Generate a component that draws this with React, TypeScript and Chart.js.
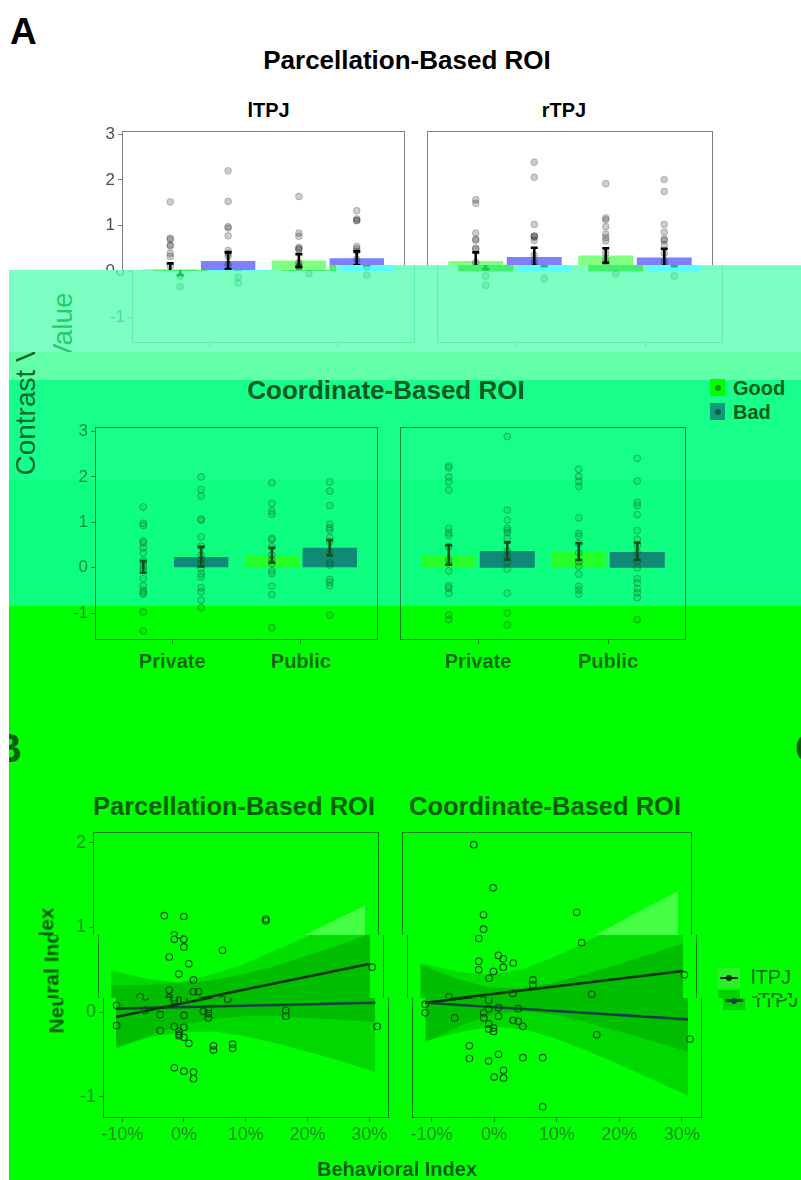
import React, { useEffect, useRef } from 'react';
import { Chart, registerables } from 'chart.js';

Chart.register(...registerables);

const FONT = '"Liberation Sans", Arial, Helvetica, sans-serif';

// ================= DATA =================
const CATEGORIES = ['Private', 'Public'];
const CONDITIONS = ['Good', 'Bad'];
const HEMISPHERES = ['lTPJ', 'rTPJ'];
const ROI_TYPES = ['Parcellation-Based ROI', 'Coordinate-Based ROI'];
const PANEL_LABELS = ['A', 'B', 'C'];
const Y_TITLE_A = 'Contrast Value';
const Y_TITLE_B = 'Neural Index';
const X_TITLE_B = 'Behavioral Index';
const Y_TICKS_A = [-1, 0, 1, 2, 3];
const Y_TICKS_B = [-1, 0, 1, 2];
const X_TICKS_B = [-10, 0, 10, 20, 30];

// Panel A: mean contrast value [Private, Public] and error-bar limits
const PARC_L_GOOD_MEAN = [0.05, 0.24];
const PARC_L_GOOD_LO = [-0.08, 0.1];
const PARC_L_GOOD_HI = [0.18, 0.38];
const PARC_L_BAD_MEAN = [0.23, 0.29];
const PARC_L_BAD_LO = [0.05, 0.14];
const PARC_L_BAD_HI = [0.42, 0.44];

const PARC_R_GOOD_MEAN = [0.23, 0.35];
const PARC_R_GOOD_LO = [0.05, 0.19];
const PARC_R_GOOD_HI = [0.42, 0.51];
const PARC_R_BAD_MEAN = [0.32, 0.31];
const PARC_R_BAD_LO = [0.12, 0.12];
const PARC_R_BAD_HI = [0.52, 0.5];

const COORD_L_GOOD_MEAN = [0.02, 0.27];
const COORD_L_GOOD_LO = [-0.11, 0.11];
const COORD_L_GOOD_HI = [0.15, 0.44];
const COORD_L_BAD_MEAN = [0.24, 0.44];
const COORD_L_BAD_LO = [0.03, 0.27];
const COORD_L_BAD_HI = [0.46, 0.61];

const COORD_R_GOOD_MEAN = [0.28, 0.35];
const COORD_R_GOOD_LO = [0.07, 0.17];
const COORD_R_GOOD_HI = [0.5, 0.54];
const COORD_R_BAD_MEAN = [0.37, 0.35];
const COORD_R_BAD_LO = [0.18, 0.17];
const COORD_R_BAD_HI = [0.56, 0.55];

// Panel A: individual subject values
const PARC_L_GOOD_PRIVATE = [1.52, 0.73, 0.7, 0.58, 0.56, 0.4, 0.33, 0.12, -0.1, -0.33];
const PARC_L_GOOD_PUBLIC = [1.64, 0.84, 0.77, 0.53, 0.5, 0.48, 0.19, 0.12, 0.1, -0.05];
const PARC_L_BAD_PRIVATE = [2.2, 1.53, 0.98, 0.95, 0.78, 0.46, 0.4, 0.33, 0.15, -0.12, -0.25];
const PARC_L_BAD_PUBLIC = [1.33, 1.15, 1.12, 1.11, 0.55, 0.5, 0.44, 0.27, 0.1, -0.08];
const PARC_R_GOOD_PRIVATE = [1.57, 1.49, 0.84, 0.71, 0.68, 0.51, 0.49, 0.2, -0.1, -0.3];
const PARC_R_GOOD_PUBLIC = [1.92, 1.17, 1.13, 0.98, 0.82, 0.74, 0.67, 0.4, 0.25, -0.05];
const PARC_R_BAD_PRIVATE = [2.39, 2.06, 1.03, 0.78, 0.77, 0.75, 0.68, 0.36, 0.2, -0.15];
const PARC_R_BAD_PUBLIC = [2.01, 1.75, 1.03, 0.86, 0.71, 0.68, 0.58, 0.4, 0.22, -0.1];

const COORD_L_GOOD_PRIVATE = [1.34, 0.98, 0.93, 0.59, 0.55, 0.44, 0.33, 0.16, 0.1, 0.02, -0.05, -0.24, -0.4, -0.5, -0.55, -0.58, -0.97, -1.39];
const COORD_L_GOOD_PUBLIC = [1.87, 1.42, 1.25, 1.18, 0.65, 0.62, 0.46, 0.28, 0.18, 0.09, -0.07, -0.13, -0.4, -0.59, -1.32];
const COORD_L_BAD_PRIVATE = [2.0, 1.72, 1.58, 1.07, 1.05, 0.68, 0.48, 0.28, 0.18, 0.1, -0.02, -0.13, -0.2, -0.44, -0.53, -0.71, -0.88];
const COORD_L_BAD_PUBLIC = [1.89, 1.69, 1.37, 0.96, 0.88, 0.83, 0.66, 0.57, 0.33, 0.11, 0.06, -0.26, -0.32, -0.4, -1.04];
const COORD_R_GOOD_PRIVATE = [2.24, 2.2, 2.0, 1.89, 1.71, 0.87, 0.77, 0.71, 0.46, 0.17, -0.07, -0.4, -0.45, -0.56, -1.04, -1.14];
const COORD_R_GOOD_PUBLIC = [2.17, 2.01, 1.9, 1.79, 1.1, 0.76, 0.7, 0.53, 0.33, 0.13, 0.03, -0.14, -0.41, -0.49, -0.58];
const COORD_R_BAD_PRIVATE = [2.89, 1.27, 1.05, 0.87, 0.82, 0.77, 0.65, 0.37, 0.26, 0.13, -0.03, -0.56, -1.0, -1.26];
const COORD_R_BAD_PUBLIC = [2.41, 1.91, 1.44, 1.37, 1.17, 0.82, 0.63, 0.49, 0.33, 0.15, 0.0, -0.24, -0.33, -0.46, -0.55, -0.66, -1.14];

// Panel B: behavioral index (%) vs neural index
const PARC_B_X = [-1.55, 1.6, 14.9, 14.9, 0.05, -0.75, 0.8, 0.8, -1.56, 7.06, 1.6, 0, 2.36, -1.56, 2.36, 3.16, -6.26, -1.56, -1.56, 0, 7.1, -10.9, -10.9, -6.3, -3.85, -3.85, -1.56, -0.8, -0.8, -0.8, 0, 0, 0, 0.8, 3.16, 3.96, 3.96, 3.96, 4.77, 4.77, 7.9, 7.9, 16.5, 16.5, -1.55, 0, 1.56, 1.56, 31.3, 31.3];
const PARC_B_Y = [1.14, 1.13, 1.1, 1.08, 0.91, 0.86, 0.86, 0.77, 0.65, 0.73, 0.57, 0.45, 0.38, 0.26, 0.24, 0.24, 0.18, 0.17, 0.14, 0.14, 0.15, 0.08, -0.16, 0.02, -0.03, -0.22, -0.17, -0.23, -0.26, -0.28, -0.04, -0.18, -0.3, -0.37, 0.01, 0.03, -0.02, -0.07, -0.4, -0.45, -0.38, -0.43, 0.02, -0.05, -0.66, -0.7, -0.71, -0.79, 0.53, -0.17];
const COORD_B_X = [-1.65, 1.44, -0.1, -0.1, 14.8, -1.65, 14.8, 1.5, 2.25, -1.65, 3.85, -1.65, 2.25, 0.7, 0, 7.0, 7.0, 16.4, 3.8, -6.4, -11.0, -11.0, -0.87, -0.87, 0.7, 0.7, 3.85, -6.3, -1.65, -1.65, -0.85, -0.85, -0.1, -0.1, 3.05, 3.85, 4.6, 16.4, 31.3, 31.2, -3.96, -3.96, -0.87, 0.7, 4.6, 7.76, 1.5, 1.5, 0, 7.76];
const COORD_B_Y = [1.98, 1.47, 1.15, 0.98, 1.18, 0.87, 0.82, 0.67, 0.63, 0.6, 0.58, 0.5, 0.53, 0.48, 0.4, 0.38, 0.32, 0.21, 0.22, 0.18, 0.09, -0.01, 0.14, 0.04, 0.05, -0.05, 0.04, -0.07, -0.01, -0.07, -0.14, -0.2, -0.19, -0.23, -0.1, -0.11, -0.17, -0.27, -0.32, 0.44, -0.4, -0.55, -0.58, -0.5, -0.54, -0.54, -0.69, -0.78, -0.77, -1.12];

// Panel B: fitted lines and 95% confidence bands
const FIT_X = [-11, 31];
const PARC_L_FIT = [-0.06, 0.57];
const PARC_R_FIT = [0.04, 0.11];
const COORD_L_FIT = [0.11, 0.485];
const COORD_R_FIT = [0.11, -0.087];
const BAND_X = [-11, -5, 0, 5, 10, 15, 20, 25, 31];
const PARC_L_BAND_HI = [0.32, 0.32, 0.35, 0.44, 0.55, 0.71, 0.87, 1.05, 1.26];
const PARC_L_BAND_LO = [-0.44, -0.26, -0.15, -0.08, -0.05, -0.05, -0.07, -0.09, -0.12];
const PARC_R_BAND_HI = [0.49, 0.39, 0.35, 0.37, 0.44, 0.53, 0.65, 0.77, 0.93];
const PARC_R_BAND_LO = [-0.41, -0.29, -0.24, -0.23, -0.29, -0.37, -0.47, -0.57, -0.71];
const COORD_L_BAND_HI = [0.58, 0.48, 0.44, 0.5, 0.64, 0.81, 1.0, 1.2, 1.43];
const COORD_L_BAND_LO = [-0.36, -0.15, -0.02, 0.01, -0.04, -0.13, -0.23, -0.34, -0.47];
const COORD_R_BAND_HI = [0.56, 0.39, 0.29, 0.28, 0.34, 0.44, 0.55, 0.67, 0.81];
const COORD_R_BAND_LO = [-0.34, -0.23, -0.17, -0.21, -0.32, -0.46, -0.62, -0.79, -0.99];

// ================= PANEL BUNDLES =================
const BAR_PARC_L = { goodMean: PARC_L_GOOD_MEAN, goodLo: PARC_L_GOOD_LO, goodHi: PARC_L_GOOD_HI, badMean: PARC_L_BAD_MEAN, badLo: PARC_L_BAD_LO, badHi: PARC_L_BAD_HI, goodPts: [PARC_L_GOOD_PRIVATE, PARC_L_GOOD_PUBLIC], badPts: [PARC_L_BAD_PRIVATE, PARC_L_BAD_PUBLIC] };
const BAR_PARC_R = { goodMean: PARC_R_GOOD_MEAN, goodLo: PARC_R_GOOD_LO, goodHi: PARC_R_GOOD_HI, badMean: PARC_R_BAD_MEAN, badLo: PARC_R_BAD_LO, badHi: PARC_R_BAD_HI, goodPts: [PARC_R_GOOD_PRIVATE, PARC_R_GOOD_PUBLIC], badPts: [PARC_R_BAD_PRIVATE, PARC_R_BAD_PUBLIC] };
const BAR_COORD_L = { goodMean: COORD_L_GOOD_MEAN, goodLo: COORD_L_GOOD_LO, goodHi: COORD_L_GOOD_HI, badMean: COORD_L_BAD_MEAN, badLo: COORD_L_BAD_LO, badHi: COORD_L_BAD_HI, goodPts: [COORD_L_GOOD_PRIVATE, COORD_L_GOOD_PUBLIC], badPts: [COORD_L_BAD_PRIVATE, COORD_L_BAD_PUBLIC] };
const BAR_COORD_R = { goodMean: COORD_R_GOOD_MEAN, goodLo: COORD_R_GOOD_LO, goodHi: COORD_R_GOOD_HI, badMean: COORD_R_BAD_MEAN, badLo: COORD_R_BAD_LO, badHi: COORD_R_BAD_HI, goodPts: [COORD_R_GOOD_PRIVATE, COORD_R_GOOD_PUBLIC], badPts: [COORD_R_BAD_PRIVATE, COORD_R_BAD_PUBLIC] };

const FIT_PARC = { px: PARC_B_X, py: PARC_B_Y, lFit: PARC_L_FIT, rFit: PARC_R_FIT, lHi: PARC_L_BAND_HI, lLo: PARC_L_BAND_LO, rHi: PARC_R_BAND_HI, rLo: PARC_R_BAND_LO };
const FIT_COORD = { px: COORD_B_X, py: COORD_B_Y, lFit: COORD_L_FIT, rFit: COORD_R_FIT, lHi: COORD_L_BAND_HI, lLo: COORD_L_BAND_LO, rHi: COORD_R_BAND_HI, rLo: COORD_R_BAND_LO };

// ================= STYLES =================
const PAL_WHITE: any = {
  bg: '#ffffff', title: '#000000', axisTitle: '#000000', tick: '#4d4d4d', frame: '#7f7f7f', xLabel: '#000000',
  good: '#80ff80', bad: '#8080ff', ptFill: 'rgba(0,0,0,0.2)', ptBorder: 'rgba(0,0,0,0.2)', err: '#000000',
  circle: '#000000', lineL: '#000000', lineR: '#1c3e6e', ribL: 'rgba(0,0,0,0.15)', ribR: 'rgba(0,0,0,0.15)',
  legend: '#000000', keyGood: '#80ff80', keyBad: '#8080ff', keyDot: 'rgba(0,0,0,0.4)', keyBgL: '#e0e0e0', keyBgR: '#d0d0d0',
};
const PAL_MINT_A: any = {
  ...PAL_WHITE, bg: '#7dffc4', title: '#1ec865', axisTitle: '#20cf6a', tick: '#45e390', frame: '#5bf0a3', xLabel: '#20cf6a',
  good: '#42f06e', bad: '#5cfdfd', ptFill: 'rgba(0,190,80,0.18)', ptBorder: 'rgba(0,180,70,0.28)', err: '#12c452',
};
const PAL_G4: any = {
  ...PAL_WHITE, bg: '#17ff8a', title: '#0b5a24', axisTitle: '#0b6a2a', tick: '#178f45', frame: '#0e8a3e', xLabel: '#0a6a20',
  good: '#27ff2c', bad: '#108a76', ptFill: 'rgba(0,110,40,0.12)', ptBorder: 'rgba(0,90,30,0.42)', err: '#0b4d1e',
  circle: '#0a4a14', legend: '#0a5e18', keyGood: '#00ff00', keyBad: '#0f9a80', keyDot: 'rgba(0,60,20,0.55)',
};
const PAL_MINT_B: any = { ...PAL_G4, bg: '#63ffa6' };
const PAL_G5: any = { ...PAL_G4, bg: '#0eff80' };
const PAL_G6: any = {
  ...PAL_G4, bg: '#00ff00', title: '#0a5e0a', axisTitle: '#0a5a0a', tick: '#188a18', frame: '#0c7c0c', xLabel: '#0a6a0a',
  good: '#30ff30', bad: '#0d8a5a', ptFill: 'rgba(0,100,0,0.12)', ptBorder: 'rgba(0,80,0,0.42)', err: '#0a4a0a',
  circle: '#0a4a0a', lineL: '#073207', lineR: '#11453c', ribL: 'rgba(150,255,150,0.45)', ribR: 'rgba(0,0,0,0.15)',
  legend: '#0a6a0a', keyBgL: '#2cf02c', keyBgR: '#00d200',
};
const PAL_G7: any = { ...PAL_G6, ribL: 'rgba(0,0,0,0.13)' };
const PAL_G8: any = { ...PAL_G7 };

const STRIPS = [
  { x0: 0, x1: 801, y0: 0, y1: 265, dx: 27, pal: PAL_WHITE },
  { x0: 0, x1: 330, y0: 265, y1: 270, dx: 27, pal: PAL_WHITE },
  { x0: 330, x1: 801, y0: 265, y1: 270, dx: 37, pal: PAL_MINT_A },
  { x0: 9, x1: 801, y0: 270, y1: 352, dx: 37, pal: PAL_MINT_A },
  { x0: 9, x1: 801, y0: 352, y1: 380, dx: 0, pal: PAL_MINT_B },
  { x0: 9, x1: 801, y0: 380, y1: 480, dx: 0, pal: PAL_G4 },
  { x0: 9, x1: 801, y0: 480, y1: 606, dx: 0, pal: PAL_G5 },
  { x0: 9, x1: 801, y0: 606, y1: 935, dx: 0, pal: PAL_G6 },
  { x0: 9, x1: 801, y0: 935, y1: 998, dx: 5, pal: PAL_G7 },
  { x0: 9, x1: 801, y0: 998, y1: 1180, dx: 10, pal: PAL_G8 },
];

const DODGE = 0.225;
const PAD_T = 16;

// ================= PLUGINS =================
const errPlugin = (color: string) => ({
  id: 'errbars',
  afterDatasetsDraw(chart: any) {
    const { ctx } = chart;
    const xs = chart.scales.x, ys = chart.scales.y;
    ctx.save();
    ctx.strokeStyle = color;
    ctx.lineWidth = 2.6;
    chart.data.datasets.forEach((ds: any) => {
      if (!ds.lo) return;
      ds.data.forEach((d: any, i: number) => {
        const px = xs.getPixelForValue(d.x);
        const a = ys.getPixelForValue(ds.lo[i]);
        const b = ys.getPixelForValue(ds.hi[i]);
        ctx.beginPath();
        ctx.moveTo(px, a); ctx.lineTo(px, b);
        ctx.moveTo(px - 3.5, a); ctx.lineTo(px + 3.5, a);
        ctx.moveTo(px - 3.5, b); ctx.lineTo(px + 3.5, b);
        ctx.stroke();
      });
    });
    ctx.restore();
  },
});

const framePlugin = (color: string) => ({
  id: 'frame',
  afterDatasetsDraw(chart: any) {
    const { ctx, chartArea: a } = chart;
    ctx.save();
    ctx.strokeStyle = color;
    ctx.lineWidth = 1;
    ctx.strokeRect(Math.round(a.left) + 0.5, Math.round(a.top) + 0.5, Math.round(a.right - a.left) - 1, Math.round(a.bottom - a.top) - 1);
    ctx.restore();
  },
});

const baseOptions = (padL: number) => ({
  responsive: false,
  animation: false,
  devicePixelRatio: 1,
  events: [],
  layout: { padding: { top: PAD_T, right: 2, bottom: 0, left: padL } },
  plugins: { legend: { display: false }, tooltip: { enabled: false }, title: { display: false } },
});

function barConfig(p: any, pal: any, o: any) {
  const cx = CATEGORIES.map((_, i) => i + 1);
  const pts = (arrs: number[][], off: number) => arrs.flatMap((a, i) => a.map((y) => ({ x: cx[i] + off, y })));
  const bars = (m: number[], off: number) => m.map((y, i) => ({ x: cx[i] + off, y }));
  return {
    type: 'bar',
    data: {
      datasets: [
        { type: 'scatter', label: CONDITIONS[0] + ' subjects', data: pts(p.goodPts, -DODGE), pointRadius: 3.4, backgroundColor: pal.ptFill, borderColor: pal.ptBorder, borderWidth: 1, order: 1 },
        { type: 'scatter', label: CONDITIONS[1] + ' subjects', data: pts(p.badPts, DODGE), pointRadius: 3.4, backgroundColor: pal.ptFill, borderColor: pal.ptBorder, borderWidth: 1, order: 1 },
        { type: 'bar', label: CONDITIONS[0], data: bars(p.goodMean, -DODGE), backgroundColor: pal.good, borderWidth: 0, grouped: false, barPercentage: 0.94, categoryPercentage: 1, lo: p.goodLo, hi: p.goodHi, order: 2 },
        { type: 'bar', label: CONDITIONS[1], data: bars(p.badMean, DODGE), backgroundColor: pal.bad, borderWidth: 0, grouped: false, barPercentage: 0.94, categoryPercentage: 1, lo: p.badLo, hi: p.badHi, order: 2 },
      ],
    },
    options: {
      ...baseOptions(o.padL),
      scales: {
        x: {
          type: 'linear', min: 0.4, max: 2.6, offset: false,
          afterBuildTicks: (ax: any) => { ax.ticks = cx.map((v) => ({ value: v })); },
          afterFit: (ax: any) => { ax.height = o.xH; },
          ticks: { display: o.showX, autoSkip: false, maxRotation: 0, padding: 6, color: pal.xLabel, font: { family: FONT, size: 20, weight: 'bold' }, callback: (v: number) => CATEGORIES[Math.round(v) - 1] },
          grid: { display: true, drawOnChartArea: false, drawTicks: true, tickLength: 4, color: pal.frame, offset: false },
          border: { display: false },
        },
        y: {
          type: 'linear', min: o.yMin, max: o.yMax, display: o.showY,
          afterBuildTicks: (ax: any) => { ax.ticks = Y_TICKS_A.map((v) => ({ value: v })); },
          afterFit: (ax: any) => { ax.width = o.showY ? 50 : 0; },
          ticks: { padding: 3, color: pal.tick, font: { family: FONT, size: 17 } },
          grid: { drawOnChartArea: false, drawTicks: true, tickLength: 4, color: pal.frame },
          border: { display: false },
        },
      },
    },
    plugins: [errPlugin(pal.err), framePlugin(pal.frame)],
  };
}

function fitConfig(p: any, pal: any, o: any) {
  const xy = (xs: number[], ys: number[]) => xs.map((x, i) => ({ x, y: ys[i] }));
  const band = { borderWidth: 0, borderColor: 'rgba(0,0,0,0)', pointRadius: 0, tension: 0, order: 3 };
  return {
    type: 'scatter',
    data: {
      datasets: [
        { type: 'line', label: HEMISPHERES[0] + ' CI high', data: xy(BAND_X, p.lHi), fill: '+1', backgroundColor: pal.ribL, ...band },
        { type: 'line', label: HEMISPHERES[0] + ' CI low', data: xy(BAND_X, p.lLo), fill: false, ...band },
        { type: 'line', label: HEMISPHERES[1] + ' CI high', data: xy(BAND_X, p.rHi), fill: '+1', backgroundColor: pal.ribR, ...band },
        { type: 'line', label: HEMISPHERES[1] + ' CI low', data: xy(BAND_X, p.rLo), fill: false, ...band },
        { type: 'line', label: HEMISPHERES[0], data: xy(FIT_X, p.lFit), borderColor: pal.lineL, borderWidth: 2.6, pointRadius: 0, fill: false, order: 1 },
        { type: 'line', label: HEMISPHERES[1], data: xy(FIT_X, p.rFit), borderColor: pal.lineR, borderWidth: 2.6, pointRadius: 0, fill: false, order: 1 },
        { type: 'scatter', label: 'subjects', data: xy(p.px, p.py), pointRadius: 3.3, backgroundColor: 'rgba(0,0,0,0)', borderColor: pal.circle, borderWidth: 1.1, order: 0 },
      ],
    },
    options: {
      ...baseOptions(o.padL),
      scales: {
        x: {
          type: 'linear', min: -13.1, max: 33.2, offset: false,
          afterBuildTicks: (ax: any) => { ax.ticks = X_TICKS_B.map((v) => ({ value: v })); },
          afterFit: (ax: any) => { ax.height = 30; },
          ticks: { autoSkip: false, maxRotation: 0, padding: 2, color: pal.tick, font: { family: FONT, size: 18 }, callback: (v: number) => v + '%' },
          grid: { display: true, drawOnChartArea: false, drawTicks: true, tickLength: 4, color: pal.frame },
          border: { display: false },
        },
        y: {
          type: 'linear', min: -1.254, max: 2.13, display: o.showY,
          afterBuildTicks: (ax: any) => { ax.ticks = Y_TICKS_B.map((v) => ({ value: v })); },
          afterFit: (ax: any) => { ax.width = o.showY ? 50 : 0; },
          ticks: { padding: 3, color: pal.tick, font: { family: FONT, size: 18 } },
          grid: { drawOnChartArea: false, drawTicks: true, tickLength: 4, color: pal.frame },
          border: { display: false },
        },
      },
    },
    plugins: [framePlugin(pal.frame)],
  };
}

// ================= COMPONENTS =================
function ChartCanvas({ left, top, width, height, make }: any) {
  const ref = useRef<HTMLCanvasElement>(null);
  useEffect(() => {
    const chart = new Chart(ref.current as HTMLCanvasElement, make());
    return () => chart.destroy();
  }, []);
  return <canvas ref={ref} width={width} height={height} style={{ position: 'absolute', left, top, width, height }} />;
}

function Txt({ x, capTop, size, bold, color, align, children }: any) {
  const style: any = {
    position: 'absolute', top: capTop - 0.13 * size, fontSize: size, lineHeight: `${size}px`,
    fontWeight: bold ? 700 : 400, color, whiteSpace: 'nowrap', fontFamily: FONT,
  };
  if (align === 'center') return <div style={{ ...style, left: x - 600, width: 1200, textAlign: 'center' }}>{children}</div>;
  return <div style={{ ...style, left: x }}>{children}</div>;
}

function RotTxt({ cx, cy, size, bold, color, children }: any) {
  return (
    <div style={{
      position: 'absolute', left: cx - 300, top: cy - size / 2, width: 600, height: size, lineHeight: `${size}px`,
      textAlign: 'center', transform: 'rotate(-90deg)', transformOrigin: '50% 50%', fontSize: size,
      fontWeight: bold ? 700 : 400, color, whiteSpace: 'nowrap', fontFamily: FONT,
    }}>{children}</div>
  );
}

const Box = ({ l, t, w, h, c, r }: any) => (
  <div style={{ position: 'absolute', left: l, top: t, width: w, height: h, background: c, borderRadius: r || 0 }} />
);

// panel geometry (plot-area boxes)
const A_LEFT = [95, 381];
const A_RIGHT = [400, 685];
const TOP_Y = [131, 343];
const MID_Y = [427, 640];
const B_LEFT = [93, 382];
const B_RIGHT = [402, 691];
const B_Y = [832, 1118];

// right-hand panels get 3px/4px of extra canvas so their plot area lands on the panel box
const chartBox = (px: number[], py: number[], yW: number, padL: number, xH: number, exL: number, exR: number) => ({
  left: px[0] - yW - padL - exL,
  top: py[0] - PAD_T,
  width: yW + padL + exL + (px[1] - px[0]) + 2 + exR,
  height: PAD_T + (py[1] - py[0]) + xH,
});

const CB_TL = chartBox(A_LEFT, TOP_Y, 50, 0, 16, 0, 0);
const CB_TR = chartBox(A_RIGHT, TOP_Y, 0, 2, 16, 3, 4);
const CB_ML = chartBox(A_LEFT, MID_Y, 50, 0, 30, 0, 0);
const CB_MR = chartBox(A_RIGHT, MID_Y, 0, 2, 30, 3, 4);
const CB_BL = chartBox(B_LEFT, B_Y, 50, 0, 30, 0, 0);
const CB_BR = chartBox(B_RIGHT, B_Y, 0, 2, 30, 3, 4);

const span = (b: any) => ({ y0: b.top, y1: b.top + b.height });

const ELEMENTS: any[] = [
  { y0: 10, y1: 50, render: (p: any) => <Txt x={-17} capTop={18} size={37} bold color={p.title}>{PANEL_LABELS[0]}</Txt> },
  { y0: 40, y1: 75, render: (p: any) => <Txt x={380} capTop={50} size={26} bold color={p.title} align="center">{ROI_TYPES[0]}</Txt> },
  { y0: 95, y1: 125, render: (p: any) => (<>
      <Txt x={241.5} capTop={103} size={20} bold color={p.title} align="center">{HEMISPHERES[0]}</Txt>
      <Txt x={537} capTop={103} size={20} bold color={p.title} align="center">{HEMISPHERES[1]}</Txt>
    </>) },
  { ...span(CB_TL), render: (p: any) => <ChartCanvas {...CB_TL} make={() => barConfig(BAR_PARC_L, p, { yMin: -1.56, yMax: 3.07, showY: true, showX: false, xH: 16, padL: 0 })} /> },
  { ...span(CB_TR), render: (p: any) => <ChartCanvas {...CB_TR} make={() => barConfig(BAR_PARC_R, p, { yMin: -1.56, yMax: 3.07, showY: false, showX: false, xH: 16, padL: 2 })} /> },
  { y0: 285, y1: 485, render: (p: any) => <RotTxt cx={26} cy={384} size={28} color={p.axisTitle}>{Y_TITLE_A}</RotTxt> },
  { y0: 372, y1: 405, render: (p: any) => <Txt x={386} capTop={380} size={26} bold color={p.title} align="center">{ROI_TYPES[1]}</Txt> },
  { ...span(CB_ML), render: (p: any) => <ChartCanvas {...CB_ML} make={() => barConfig(BAR_COORD_L, p, { yMin: -1.59, yMax: 3.1, showY: true, showX: true, xH: 30, padL: 0 })} /> },
  { ...span(CB_MR), render: (p: any) => <ChartCanvas {...CB_MR} make={() => barConfig(BAR_COORD_R, p, { yMin: -1.59, yMax: 3.1, showY: false, showX: true, xH: 30, padL: 2 })} /> },
  { y0: 376, y1: 425, render: (p: any) => (<>
      <Box l={710} t={379} w={15} h={17} c={p.keyGood} />
      <Box l={714.5} t={384.5} w={6} h={6} c={p.keyDot} r="50%" />
      <Txt x={733} capTop={381} size={20} bold color={p.legend}>{CONDITIONS[0]}</Txt>
      <Box l={710} t={403} w={15} h={17} c={p.keyBad} />
      <Box l={714.5} t={408.5} w={6} h={6} c={p.keyDot} r="50%" />
      <Txt x={733} capTop={405} size={20} bold color={p.legend}>{CONDITIONS[1]}</Txt>
    </>) },
  { y0: 725, y1: 775, render: (p: any) => (<>
      <Txt x={-7} capTop={733} size={40} bold color={p.title}>{PANEL_LABELS[1]}</Txt>
      <Txt x={795} capTop={733} size={40} bold color={p.title}>{PANEL_LABELS[2]}</Txt>
    </>) },
  { y0: 790, y1: 822, render: (p: any) => (<>
      <Txt x={234} capTop={797} size={25.5} bold color={p.title} align="center">{ROI_TYPES[0]}</Txt>
      <Txt x={545} capTop={797} size={25.5} bold color={p.title} align="center">{ROI_TYPES[1]}</Txt>
    </>) },
  { ...span(CB_BL), render: (p: any) => <ChartCanvas {...CB_BL} make={() => fitConfig(FIT_PARC, p, { showY: true, padL: 0 })} /> },
  { ...span(CB_BR), render: (p: any) => <ChartCanvas {...CB_BR} make={() => fitConfig(FIT_COORD, p, { showY: false, padL: 2 })} /> },
  { y0: 960, y1: 1015, render: (p: any) => (<>
      <Box l={713} t={968} w={22} h={20} c={p.keyBgL} />
      <Box l={715} t={976.7} w={18} h={2.6} c={p.lineL} />
      <Box l={721} t={975} w={6} h={6} c={p.lineL} r="50%" />
      <Txt x={746} capTop={970} size={20} color={p.legend}>{HEMISPHERES[0]}</Txt>
      <Box l={713} t={990} w={22} h={20} c={p.keyBgR} />
      <Box l={715} t={999.2} w={18} h={2.6} c={p.lineR} />
      <Box l={721} t={997.5} w={6} h={6} c={p.lineR} r="50%" />
      <Txt x={746} capTop={993} size={20} color={p.legend}>{HEMISPHERES[1]}</Txt>
    </>) },
  { y0: 900, y1: 1040, render: (p: any) => <RotTxt cx={46} cy={970} size={21} bold color={p.axisTitle}>{Y_TITLE_B}</RotTxt> },
  { y0: 1155, y1: 1190, render: (p: any) => <Txt x={387} capTop={1162} size={20} bold color={p.axisTitle} align="center">{X_TITLE_B}</Txt> },
];

function StripView({ s }: any) {
  const items = ELEMENTS.filter((e) => e.y1 > s.y0 && e.y0 < s.y1);
  return (
    <div style={{ position: 'absolute', left: s.x0, top: s.y0, width: s.x1 - s.x0, height: s.y1 - s.y0, overflow: 'hidden', background: s.pal.bg }}>
      <div style={{ position: 'absolute', left: s.dx - s.x0, top: -s.y0, width: 900, height: 1200 }}>
        {items.map((e, i) => <React.Fragment key={i}>{e.render(s.pal)}</React.Fragment>)}
      </div>
    </div>
  );
}

export default function App() {
  return (
    <div style={{ position: 'absolute', left: 0, top: 0, width: 801, height: 1180, background: '#ffffff', overflow: 'hidden' }}>
      {STRIPS.map((s, i) => <StripView key={i} s={s} />)}
    </div>
  );
}
